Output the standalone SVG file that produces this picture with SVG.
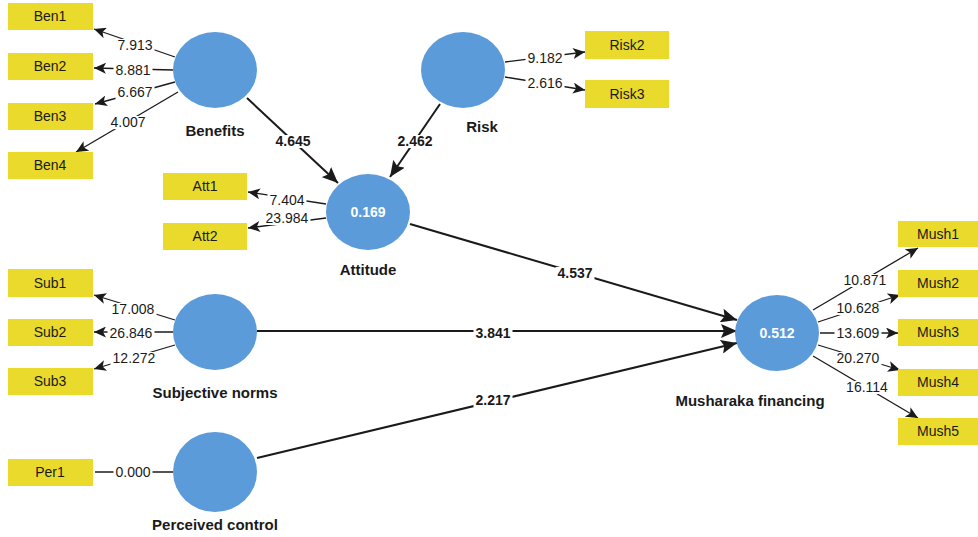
<svg xmlns="http://www.w3.org/2000/svg" width="978" height="537" viewBox="0 0 978 537">
<style>
.ind rect{fill:#e9da2c;}
.ind text{font-family:"Liberation Sans",Arial,sans-serif;font-size:14px;fill:#1a1a1a;text-anchor:middle;}
.lv ellipse{fill:#5b9bd9;}
.lv .name{font-family:"Liberation Sans",Arial,sans-serif;font-size:15px;font-weight:bold;fill:#1a1a1a;text-anchor:middle;}
.lv .r2{font-family:"Liberation Sans",Arial,sans-serif;font-size:14px;font-weight:bold;fill:#ffffff;text-anchor:middle;}
.out{stroke:#1a1a1a;stroke-width:1.3;fill:none;marker-end:url(#aS);}
.str{stroke:#1a1a1a;stroke-width:2;fill:none;marker-end:url(#aL);}
.bg{fill:#ffffff;}
.lo{font-family:"Liberation Sans",Arial,sans-serif;font-size:14px;fill:#1a1a1a;text-anchor:middle;}
.pc{font-family:"Liberation Sans",Arial,sans-serif;font-size:14px;font-weight:bold;fill:#1a1a1a;text-anchor:middle;}
</style>
<defs>
<marker id="aS" markerUnits="userSpaceOnUse" markerWidth="13" markerHeight="11" refX="12" refY="5.5" orient="auto"><path d="M0,0 L12,5.5 L0,11 L3,5.5 z" fill="#1a1a1a"/></marker>
<marker id="aL" markerUnits="userSpaceOnUse" markerWidth="17" markerHeight="14" refX="16" refY="7" orient="auto"><path d="M0,0 L16,7 L0,14 L3,7 z" fill="#1a1a1a"/></marker>
</defs>
<rect width="978" height="537" fill="#ffffff"/>
<g id="connectors">
<path class="out" d="M175,57 L94,29"/>
<path class="out" d="M173,70 L94,68"/>
<path class="out" d="M175,82 L95,104"/>
<path class="out" d="M178,92 L76,152"/>
<path class="out" d="M505,62 L585,52"/>
<path class="out" d="M505,77 L585,90"/>
<path class="out" d="M326,204 L248,192"/>
<path class="out" d="M326,218 L248,228"/>
<path class="out" d="M175,320 L94,295"/>
<path class="out" d="M173,332 L94,332"/>
<path class="out" d="M175,345 L94,369"/>
<path d="M95,472 L173,472" stroke="#1a1a1a" stroke-width="1.3" fill="none"/>
<path class="out" d="M813,310 L918,248"/>
<path class="out" d="M818,322 L900,295"/>
<path class="out" d="M820,333 L898,333"/>
<path class="out" d="M818,345 L900,370"/>
<path class="out" d="M813,356 L918,418"/>
<path class="str" d="M247,98 L338,183"/>
<path class="str" d="M440,104 L390,177"/>
<path class="str" d="M410,224 L737,320"/>
<path class="str" d="M257,331 L737,331"/>
<path class="str" d="M257,458 L737,343"/>
<rect class="bg" x="115.5" y="39" width="39" height="13"/><text class="lo" x="135" y="50">7.913</text>
<rect class="bg" x="113.5" y="64" width="39" height="13"/><text class="lo" x="133" y="75">8.881</text>
<rect class="bg" x="115.5" y="86" width="39" height="13"/><text class="lo" x="135" y="97">6.667</text>
<rect class="bg" x="108.5" y="116" width="39" height="13"/><text class="lo" x="128" y="127">4.007</text>
<rect class="bg" x="273.5" y="135" width="39" height="13"/><text class="pc" x="293" y="146">4.645</text>
<rect class="bg" x="395.5" y="135" width="39" height="13"/><text class="pc" x="415" y="146">2.462</text>
<rect class="bg" x="525.5" y="52" width="39" height="13"/><text class="lo" x="545" y="63">9.182</text>
<rect class="bg" x="525.5" y="77" width="39" height="13"/><text class="lo" x="545" y="88">2.616</text>
<rect class="bg" x="267.5" y="194" width="39" height="13"/><text class="lo" x="287" y="205">7.404</text>
<rect class="bg" x="263.5" y="212" width="47" height="13"/><text class="lo" x="287" y="223">23.984</text>
<rect class="bg" x="555.5" y="267" width="39" height="13"/><text class="pc" x="575" y="278">4.537</text>
<rect class="bg" x="473.5" y="327" width="39" height="13"/><text class="pc" x="493" y="338">3.841</text>
<rect class="bg" x="473.5" y="394" width="39" height="13"/><text class="pc" x="493" y="405">2.217</text>
<rect class="bg" x="109.5" y="303" width="47" height="13"/><text class="lo" x="133" y="314">17.008</text>
<rect class="bg" x="107.5" y="327" width="47" height="13"/><text class="lo" x="131" y="338">26.846</text>
<rect class="bg" x="110.5" y="352" width="47" height="13"/><text class="lo" x="134" y="363">12.272</text>
<rect class="bg" x="113.5" y="466" width="39" height="13"/><text class="lo" x="133" y="477">0.000</text>
<rect class="bg" x="841.5" y="274" width="47" height="13"/><text class="lo" x="865" y="285">10.871</text>
<rect class="bg" x="834.5" y="302" width="47" height="13"/><text class="lo" x="858" y="313">10.628</text>
<rect class="bg" x="834.5" y="327" width="47" height="13"/><text class="lo" x="858" y="338">13.609</text>
<rect class="bg" x="834.5" y="352" width="47" height="13"/><text class="lo" x="858" y="363">20.270</text>
<rect class="bg" x="843.5" y="381" width="47" height="13"/><text class="lo" x="867" y="392">16.114</text>
</g>
<g id="Ben1" class="ind"><rect x="8" y="3" width="85" height="27"/><text x="50" y="21">Ben1</text></g>
<g id="Ben2" class="ind"><rect x="8" y="53" width="85" height="27"/><text x="50" y="71">Ben2</text></g>
<g id="Ben3" class="ind"><rect x="8" y="103" width="85" height="27"/><text x="50" y="121">Ben3</text></g>
<g id="Ben4" class="ind"><rect x="8" y="152" width="85" height="27"/><text x="50" y="170">Ben4</text></g>
<g id="Att1" class="ind"><rect x="163" y="173" width="84" height="27"/><text x="205" y="191">Att1</text></g>
<g id="Att2" class="ind"><rect x="163" y="223" width="84" height="27"/><text x="205" y="241">Att2</text></g>
<g id="Sub1" class="ind"><rect x="8" y="269" width="85" height="28"/><text x="50" y="288">Sub1</text></g>
<g id="Sub2" class="ind"><rect x="8" y="319" width="85" height="27"/><text x="50" y="337">Sub2</text></g>
<g id="Sub3" class="ind"><rect x="8" y="368" width="85" height="27"/><text x="50" y="386">Sub3</text></g>
<g id="Per1" class="ind"><rect x="8" y="459" width="85" height="27"/><text x="50" y="477">Per1</text></g>
<g id="Risk2" class="ind"><rect x="585" y="31" width="84" height="28"/><text x="627" y="50">Risk2</text></g>
<g id="Risk3" class="ind"><rect x="585" y="80" width="84" height="28"/><text x="627" y="99">Risk3</text></g>
<g id="Mush1" class="ind"><rect x="898" y="221" width="80" height="26"/><text x="938" y="239">Mush1</text></g>
<g id="Mush2" class="ind"><rect x="898" y="270" width="80" height="27"/><text x="938" y="288">Mush2</text></g>
<g id="Mush3" class="ind"><rect x="898" y="319" width="80" height="27"/><text x="938" y="337">Mush3</text></g>
<g id="Mush4" class="ind"><rect x="898" y="369" width="80" height="27"/><text x="938" y="387">Mush4</text></g>
<g id="Mush5" class="ind"><rect x="898" y="418" width="80" height="27"/><text x="938" y="436">Mush5</text></g>
<g id="Benefits" class="lv"><ellipse cx="215" cy="70" rx="42" ry="38"/><text class="name" x="215" y="136">Benefits</text></g>
<g id="Risk" class="lv"><ellipse cx="463" cy="70" rx="42" ry="38"/><text class="name" x="482" y="132">Risk</text></g>
<g id="Attitude" class="lv"><ellipse cx="368" cy="212" rx="42" ry="38"/><text class="r2" x="368" y="217">0.169</text><text class="name" x="368" y="275">Attitude</text></g>
<g id="SubjectiveNorms" class="lv"><ellipse cx="215" cy="332" rx="42" ry="38"/><text class="name" x="215" y="398">Subjective norms</text></g>
<g id="PerceivedControl" class="lv"><ellipse cx="215" cy="472" rx="42" ry="40"/><text class="name" x="215" y="530">Perceived control</text></g>
<g id="MusharakaFinancing" class="lv"><ellipse cx="777" cy="333" rx="42" ry="38"/><text class="r2" x="777" y="338">0.512</text><text class="name" x="750" y="406">Musharaka financing</text></g>
</svg>
